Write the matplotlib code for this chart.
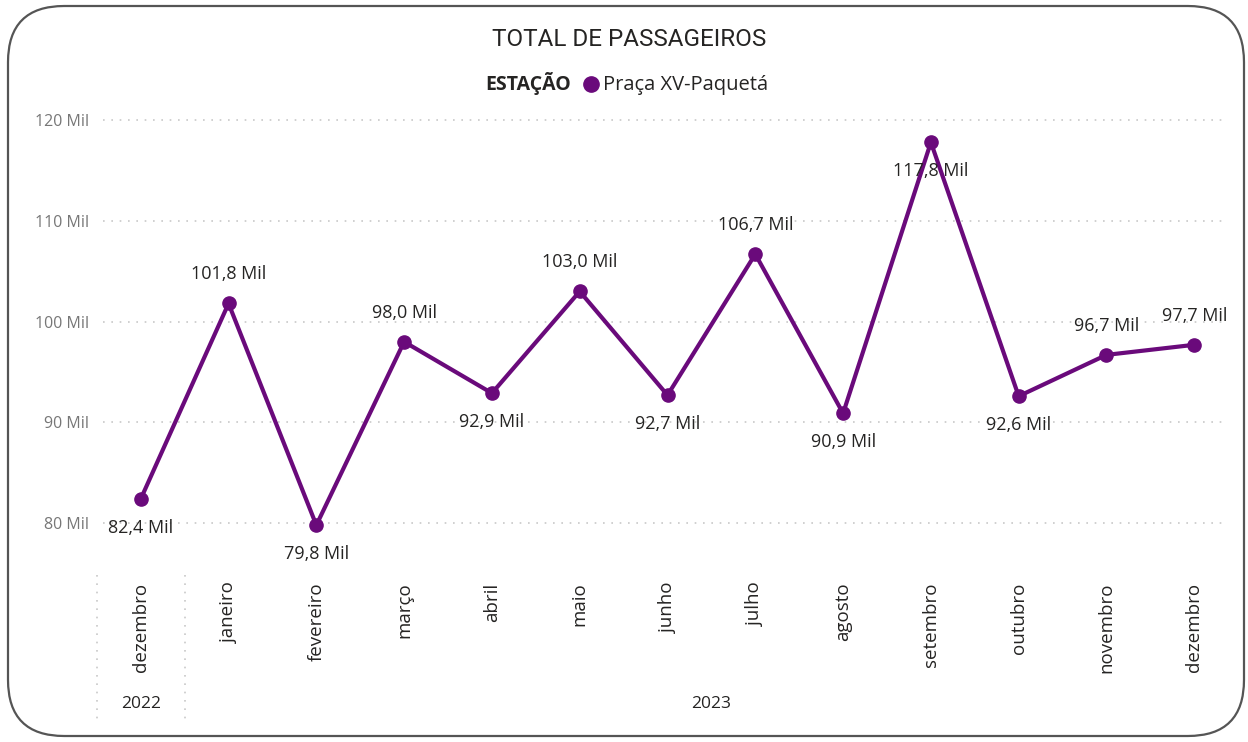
import matplotlib.pyplot as plt
from matplotlib.patches import FancyBboxPatch
from matplotlib.lines import Line2D

# data (thousands of passengers)
months = ['dezembro', 'janeiro', 'fevereiro', 'março', 'abril', 'maio', 'junho',
          'julho', 'agosto', 'setembro', 'outubro', 'novembro', 'dezembro']
years = ['2022', '2023']
year_span = [(0, 0), (1, 12)]
values = [82.4, 101.8, 79.8, 98.0, 92.9, 103.0, 92.7, 106.7, 90.9, 117.8, 92.6, 96.7, 97.7]
# where Power BI put each data label: 1 = above, -1 = below
label_side = [-1, 1, -1, 1, -1, 1, -1, 1, -1, -1, -1, 1, 1]
yticks = [80, 90, 100, 110, 120]

purple = '#6A0A7B'
W, H = 1248, 742
fig = plt.figure(figsize=(W / 100, H / 100), dpi=100)
fig.patch.set_facecolor('white')

# rounded card border
card = FancyBboxPatch((8 / W, 6 / H), 1236 / W, 730 / H,
                      boxstyle='round,pad=0,rounding_size=0.045',
                      transform=fig.transFigure, facecolor='none',
                      edgecolor='#555555', linewidth=1.6,
                      mutation_aspect=W / H)
fig.add_artist(card)

left, right, top, bottom = 103, 1225, 105, 570
ax = fig.add_axes([left / W, 1 - bottom / H, (right - left) / W, (bottom - top) / H])
ax.set_facecolor('none')

x = list(range(len(values)))
ax.plot(x, values, color=purple, linewidth=3, marker='o', markersize=9.5,
        solid_joinstyle='round', zorder=3)

for i, (v, s) in enumerate(zip(values, label_side)):
    ax.annotate(f'{v:.1f} Mil'.replace('.', ','), (i, v), xytext=(0, 21 * s),
                textcoords='offset points', ha='center', va='center',
                fontsize=13, family='Open Sans', color='#252423', zorder=4,
                annotation_clip=False)

ax.set_xlim(-0.43, 12.35)
ax.set_ylim(75.35, 121.5)
ax.set_yticks(yticks)
ax.set_yticklabels([f'{t} Mil' for t in yticks], family='Open Sans', fontsize=11.5,
                   color='#777777')
ax.grid(axis='y', color='#c8c8c8', linestyle=(0, (1, 4)), linewidth=1.2)
ax.set_xticks(x)
ax.set_xticklabels(months, rotation=90, family='Open Sans', fontsize=13.5,
                   color='#252423', va='top')
ax.tick_params(axis='both', length=0)
ax.tick_params(axis='x', pad=9)
ax.tick_params(axis='y', pad=10)
for sp in ax.spines.values():
    sp.set_visible(False)

# year level of the hierarchical axis
trans = ax.get_xaxis_transform()
for b in [-0.5, 0.5]:
    ax.add_line(Line2D([b, b], [-0.011, -0.32], transform=trans, clip_on=False,
                       color='#c8c8c8', linestyle=(0, (1, 4)), linewidth=1.2))
for yr, (a, b) in zip(years, year_span):
    ax.text((a + b) / 2, -0.288, yr, transform=trans, ha='center', va='center',
            fontsize=12.5, family='Open Sans', color='#252423')

# title and legend
fig.text(629 / W, 1 - 46 / H, 'TOTAL DE PASSAGEIROS', ha='center', va='baseline',
         fontsize=17.5, family='Roboto', color='#252423')
fig.text(571 / W, 1 - 90 / H, 'ESTAÇÃO', ha='right', va='baseline', fontsize=14,
         family='Open Sans', fontweight='bold', color='#252423')
fig.add_artist(Line2D([591 / W], [1 - 84 / H], marker='o', markersize=11,
                      color=purple, transform=fig.transFigure))
fig.text(603 / W, 1 - 90 / H, 'Praça XV-Paquetá', ha='left', va='baseline',
         fontsize=14.5, family='Open Sans', color='#252423')

fig.savefig('out.png', dpi=100)
